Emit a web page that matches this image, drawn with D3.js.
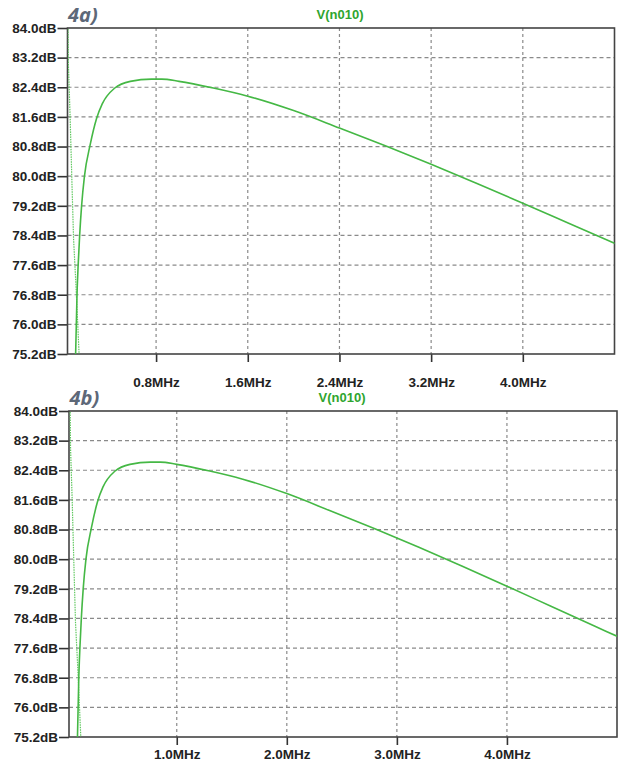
<!DOCTYPE html>
<html>
<head>
<meta charset="utf-8">
<script src="https://cdn.jsdelivr.net/npm/d3@7/dist/d3.min.js"></script>
<style>
  body { margin: 0; background: #fff; }
  svg { display: block; }
  .tick text { font-family: "Liberation Sans", Arial, sans-serif; font-weight: bold; font-size: 13.5px; fill: #222; }
</style>
</head>
<body>
<div id="chart"></div>
<script>
// magnitude trace V(n010) (MHz / dB)
var freqMHz = [0.09, 0.098, 0.11, 0.12, 0.133, 0.15, 0.175, 0.225, 0.28, 0.33, 0.44, 0.575, 0.76, 0.85, 1.0, 1.3, 1.6, 2.0, 2.4, 2.8, 3.2, 3.6, 4.0, 4.4, 4.8, 5.0];
var magDB   = [74.4, 75.2, 76.8, 77.6, 78.4, 79.2, 80.0, 80.85, 81.55, 81.95, 82.38, 82.56, 82.62, 82.62, 82.56, 82.38, 82.16, 81.77, 81.30, 80.82, 80.32, 79.80, 79.27, 78.73, 78.19, 77.92];

// dotted phase trace, as it sits on the dB grid
var phaseMHz   = [0.025, 0.03, 0.035, 0.05, 0.065, 0.08, 0.1, 0.115, 0.128, 0.14];
var phaseLevel = [86, 84.5, 83.0, 81.6, 79.9, 78.3, 77.1, 76.1, 75.2, 74.4];

var yTicks = [75.2, 76.0, 76.8, 77.6, 78.4, 79.2, 80.0, 80.8, 81.6, 82.4, 83.2, 84.0];
var xTicksA = [0.8, 1.6, 2.4, 3.2, 4.0];
var xTicksB = [1.0, 2.0, 3.0, 4.0];

var W = 619, H = 765;
var green = "#45b845";

var svg = d3.select("#chart").append("svg").attr("width", W).attr("height", H);

var mag = freqMHz.map(function(f, i){ return {f: f, v: magDB[i]}; });
var phase = phaseMHz.map(function(f, i){ return {f: f, v: phaseLevel[i]}; });

drawPanel({id: "a", label: "4a)", left: 67.5, top: 28, right: 614.5, bottom: 354,
  xDomain: [0.027, 4.8], xTicks: xTicksA, xPad: 15, titleX: 340, labelY: 22});
drawPanel({id: "b", label: "4b)", left: 69, top: 411, right: 617, bottom: 737,
  xDomain: [0.021, 5.0], xTicks: xTicksB, xPad: 4, titleX: 342, labelY: 405});

function drawPanel(p){
  var x = d3.scaleLinear().domain(p.xDomain).range([p.left, p.right]);
  var y = d3.scaleLinear().domain([75.2, 84.0]).range([p.bottom, p.top]);
  var g = svg.append("g");

  g.append("clipPath").attr("id", "clip" + p.id)
    .append("rect").attr("x", p.left).attr("y", p.top)
    .attr("width", p.right - p.left).attr("height", p.bottom - p.top);

  // grid
  g.append("g").selectAll("line").data(yTicks.slice(1, -1)).enter().append("line")
    .attr("x1", p.left).attr("x2", p.right)
    .attr("y1", function(d){ return y(d); }).attr("y2", function(d){ return y(d); })
    .attr("stroke", "#8a8a8a").attr("stroke-width", 1.2).attr("stroke-dasharray", "4,3");
  g.append("g").selectAll("line").data(p.xTicks).enter().append("line")
    .attr("y1", p.top).attr("y2", p.bottom)
    .attr("x1", function(d){ return x(d); }).attr("x2", function(d){ return x(d); })
    .attr("stroke", "#8a8a8a").attr("stroke-width", 1.2).attr("stroke-dasharray", "3,3");

  // axes
  var yAxis = d3.axisLeft(y).tickValues(yTicks).tickSize(10).tickPadding(1)
    .tickFormat(function(d){ return d3.format(".1f")(d) + "dB"; });
  var ya = g.append("g").attr("transform", "translate(" + p.left + ",0)").call(yAxis);
  var xAxis = d3.axisBottom(x).tickValues(p.xTicks).tickSize(8).tickPadding(p.xPad)
    .tickFormat(function(d){ return d3.format(".1f")(d) + "MHz"; });
  var xa = g.append("g").attr("transform", "translate(0," + p.bottom + ")").call(xAxis);
  [ya, xa].forEach(function(a){
    a.select(".domain").remove();
    a.selectAll(".tick line").attr("stroke", "#333").attr("stroke-width", 1.6);
  });

  // frame
  g.append("rect").attr("x", p.left).attr("y", p.top)
    .attr("width", p.right - p.left).attr("height", p.bottom - p.top)
    .attr("fill", "none").attr("stroke", "#444").attr("stroke-width", 1.6);

  // traces
  var line = d3.line().x(function(d){ return x(d.f); }).y(function(d){ return y(d.v); });
  var traces = g.append("g").attr("clip-path", "url(#clip" + p.id + ")");
  traces.append("path").datum(phase)
    .attr("d", line)
    .attr("fill", "none").attr("stroke", "#5fc85f").attr("stroke-width", 1.2)
    .attr("stroke-dasharray", "1.5,1");
  traces.append("path").datum(mag)
    .attr("d", line.curve(d3.curveMonotoneX))
    .attr("fill", "none").attr("stroke", green).attr("stroke-width", 1.6);

  // title and panel label
  g.append("text").attr("x", p.titleX).attr("y", p.top - 9)
    .attr("text-anchor", "middle")
    .style("font-family", "Liberation Sans, Arial, sans-serif").style("font-weight", "bold")
    .style("font-size", "13px").attr("fill", "#2fa52f")
    .text("V(n010)");
  g.append("text").attr("x", p.left + 0.5).attr("y", p.labelY)
    .style("font-family", "Open Sans, DejaVu Sans, sans-serif").style("font-style", "italic")
    .style("font-weight", "bold").style("font-size", "20px").attr("fill", "#5d6878")
    .text(p.label);
}
</script>
</body>
</html>
